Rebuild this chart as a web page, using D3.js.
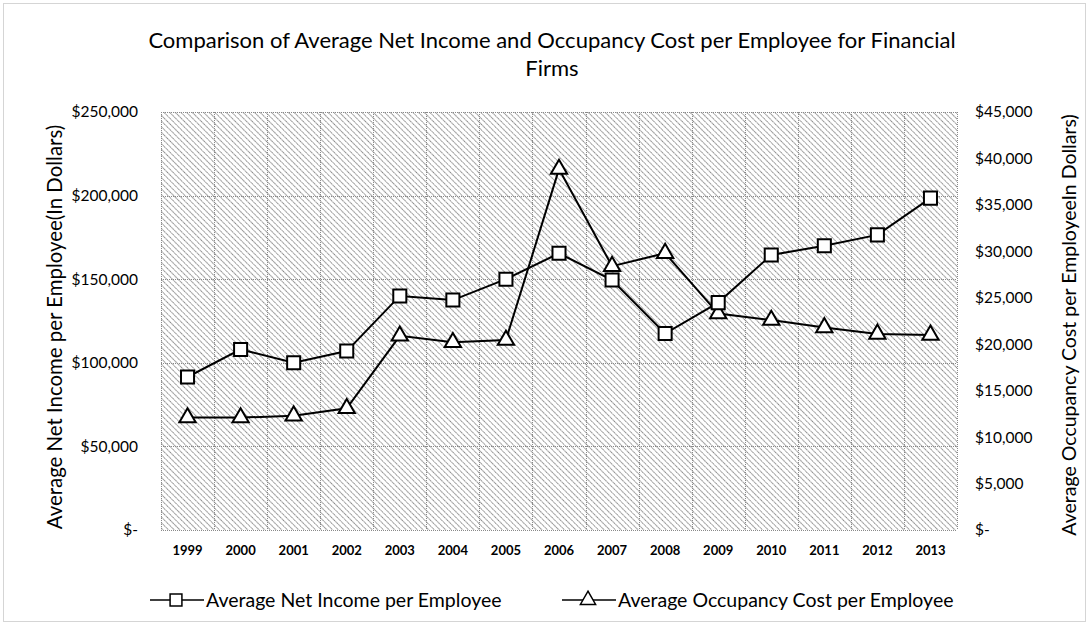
<!DOCTYPE html>
<html>
<head>
<meta charset="utf-8">
<script src="https://cdn.jsdelivr.net/npm/d3@7"></script>
<style>
  html, body { margin: 0; padding: 0; background: #fff; }
  svg text { font-family: Lato, "Open Sans", sans-serif; fill: #000; }
</style>
</head>
<body>
<svg id="chart" width="1089" height="634"></svg>
<script>
// Financial firms, 1999-2013
const years = ["1999","2000","2001","2002","2003","2004","2005","2006","2007","2008","2009","2010","2011","2012","2013"];
const netIncome = [91500, 108000, 100000, 107000, 140000, 137500, 150000, 165500, 149500, 117500, 136000, 164500, 170000, 176500, 198500];
const occupancyCost = [12100, 12100, 12300, 13100, 20900, 20200, 20450, 38850, 28400, 29800, 23300, 22600, 21800, 21100, 21000];
const leftTicks = [0, 50000, 100000, 150000, 200000, 250000];
const rightTicks = [0, 5000, 10000, 15000, 20000, 25000, 30000, 35000, 40000, 45000];
const seriesNames = ["Average Net Income per Employee", "Average Occupancy Cost per Employee"];
const titleLines = ["Comparison of Average Net Income and Occupancy Cost per Employee for Financial", "Firms"];
const leftAxisTitle = "Average Net Income per Employee(In Dollars)";
const rightAxisTitle = "Average Occupancy Cost per EmployeeIn Dollars)";

const svg = d3.select("#chart");
const plot = { left: 161, right: 957, top: 112, bottom: 530 };

const x = d3.scaleBand().domain(years).range([plot.left, plot.right]).padding(0);
const yL = d3.scaleLinear().domain([0, 250000]).range([plot.bottom, plot.top]);
const yR = d3.scaleLinear().domain([0, 45000]).range([plot.bottom, plot.top]);
const cx = d => x(d) + x.bandwidth() / 2;
const money = v => v === 0 ? "$-" : "$" + d3.format(",")(v);

// outer chart frame
svg.append("rect")
  .attr("x", 3.5).attr("y", 3.5).attr("width", 1082).attr("height", 618)
  .attr("fill", "none").attr("stroke", "#aaa").attr("stroke-dasharray", "1,1");

// diagonal hatch fill for the plot area
const defs = svg.append("defs");
const pat = defs.append("pattern")
  .attr("id", "hatch").attr("patternUnits", "userSpaceOnUse")
  .attr("width", 4).attr("height", 4)
  .attr("patternTransform", "rotate(-45)");
pat.append("line").attr("x1", 0.5).attr("y1", 0).attr("x2", 0.5).attr("y2", 4)
  .attr("stroke", "#858585").attr("stroke-width", 1).attr("stroke-dasharray", "1.4,0.8");

svg.append("rect")
  .attr("x", plot.left).attr("y", plot.top)
  .attr("width", plot.right - plot.left).attr("height", plot.bottom - plot.top)
  .attr("fill", "url(#hatch)");

// gridlines
const grid = svg.append("g").attr("stroke", "#8a8a8a").attr("stroke-dasharray", "1,1").attr("stroke-width", 1);
grid.selectAll("line.h").data(leftTicks).join("line")
  .attr("x1", plot.left).attr("x2", plot.right)
  .attr("y1", d => Math.round(yL(d)) + 0.5).attr("y2", d => Math.round(yL(d)) + 0.5);
grid.selectAll("line.v").data(years.concat(["end"])).join("line")
  .attr("x1", (d, i) => Math.round(plot.left + i * x.bandwidth()) + 0.5)
  .attr("x2", (d, i) => Math.round(plot.left + i * x.bandwidth()) + 0.5)
  .attr("y1", plot.top).attr("y2", plot.bottom);

// axes (labels only)
const axL = svg.append("g").attr("transform", `translate(${plot.left},0)`)
  .call(d3.axisLeft(yL).tickValues(leftTicks).tickFormat(money).tickSize(0).tickPadding(23));
const axR = svg.append("g").attr("transform", `translate(${plot.right},0)`)
  .call(d3.axisRight(yR).tickValues(rightTicks).tickFormat(money).tickSize(0).tickPadding(18));
const axX = svg.append("g").attr("transform", `translate(0,${plot.bottom})`)
  .call(d3.axisBottom(x).tickSize(0).tickPadding(16));
[axL, axR, axX].forEach(g => {
  g.select(".domain").remove();
  g.selectAll("text").attr("font-family", "Lato, sans-serif").attr("fill", "#000");
});
axL.selectAll("text").attr("font-size", 15.5);
axR.selectAll("text").attr("font-size", 15.5);
axX.selectAll("text").attr("font-size", 13).attr("font-weight", 700);

// title
svg.append("g").selectAll("text").data(titleLines).join("text")
  .attr("x", 552).attr("y", (d, i) => 48 + i * 28)
  .attr("text-anchor", "middle").attr("font-size", 22)
  .text(d => d);

// axis titles
svg.append("text")
  .attr("transform", `translate(62,327) rotate(-90)`)
  .attr("text-anchor", "middle").attr("font-size", 20.4).text(leftAxisTitle);
svg.append("text")
  .attr("transform", `translate(1076,325) rotate(-90)`)
  .attr("text-anchor", "middle").attr("font-size", 19.5).text(rightAxisTitle);

// series lines
const lineL = d3.line().x((d, i) => cx(years[i])).y(d => yL(d));
const lineR = d3.line().x((d, i) => cx(years[i])).y(d => yR(d));
svg.append("path").datum(netIncome).attr("d", lineL)
  .attr("fill", "none").attr("stroke", "#000").attr("stroke-width", 2);
svg.append("path").datum(occupancyCost).attr("d", lineR)
  .attr("fill", "none").attr("stroke", "#000").attr("stroke-width", 2);

const squareSym = d3.symbol().type(d3.symbolSquare).size(170);
const triSym = d3.symbol().type(d3.symbolTriangle).size(115);

svg.append("g").selectAll("path").data(occupancyCost).join("path")
  .attr("d", triSym)
  .attr("transform", (d, i) => `translate(${cx(years[i])},${yR(d)})`)
  .attr("fill", "#fff").attr("stroke", "#000").attr("stroke-width", 2);
svg.append("g").selectAll("path").data(netIncome).join("path")
  .attr("d", squareSym)
  .attr("transform", (d, i) => `translate(${cx(years[i])},${yL(d)})`)
  .attr("fill", "#fff").attr("stroke", "#000").attr("stroke-width", 2);

// legend
const legendItems = [
  { name: seriesNames[0], type: d3.symbolSquare, size: 140, x0: 150 },
  { name: seriesNames[1], type: d3.symbolTriangle, size: 100, x0: 562 }
];
const leg = svg.append("g").selectAll("g").data(legendItems).join("g")
  .attr("transform", d => `translate(${d.x0},600)`);
leg.append("line").attr("x1", 0).attr("x2", 54).attr("y1", 0).attr("y2", 0)
  .attr("stroke", "#000").attr("stroke-width", 1.5);
leg.append("path").attr("d", d => d3.symbol().type(d.type).size(d.size)())
  .attr("transform", "translate(26,0)")
  .attr("fill", "#fff").attr("stroke", "#000").attr("stroke-width", 1.5);
leg.append("text").attr("x", 56).attr("y", 7).attr("font-size", 19.5).text(d => d.name);
</script>
</body>
</html>
